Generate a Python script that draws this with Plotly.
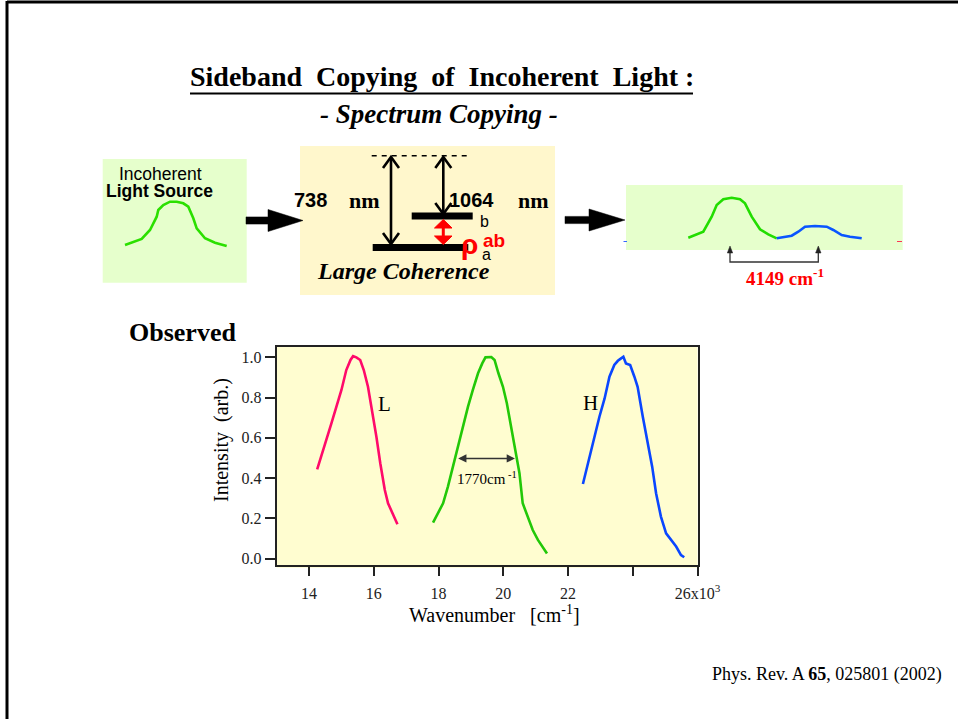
import plotly.graph_objects as go

W, H = 958, 719
SERIF = "Liberation Serif"
SANS = "Liberation Sans"

# ---------------- Observed spectra (wavenumber in 10^3 cm^-1, normalized) ----------------
L_wavenumber = [14.25, 14.38, 14.53, 14.69, 14.84, 15.00, 15.15, 15.28, 15.36, 15.46,
                15.58, 15.69, 15.82, 15.95, 16.08, 16.20, 16.34, 16.44, 16.59, 16.73]
L_intensity = [0.444, 0.507, 0.589, 0.672, 0.755, 0.838, 0.937, 0.987, 1.006, 1.000,
               0.987, 0.937, 0.854, 0.738, 0.606, 0.474, 0.341, 0.275, 0.225, 0.171]

G_wavenumber = [17.83, 17.98, 18.14, 18.29, 18.44, 18.60, 18.75, 18.91, 19.06, 19.22,
                19.35, 19.45, 19.63, 19.73, 19.85, 19.99, 20.11, 20.24, 20.38, 20.50,
                20.60, 20.76, 20.91, 21.07, 21.22, 21.35]
G_intensity = [0.179, 0.225, 0.275, 0.358, 0.457, 0.556, 0.656, 0.755, 0.838, 0.921,
               0.970, 1.000, 1.002, 0.987, 0.921, 0.854, 0.772, 0.656, 0.540, 0.424,
               0.275, 0.209, 0.142, 0.093, 0.060, 0.026]

H_wavenumber = [22.46, 22.54, 22.66, 22.82, 22.97, 23.13, 23.28, 23.43, 23.54, 23.64,
                23.71, 23.79, 23.92, 24.05, 24.15, 24.31, 24.46, 24.60, 24.72, 24.87,
                25.03, 25.18, 25.34, 25.49, 25.59]
H_intensity = [0.371, 0.424, 0.507, 0.606, 0.705, 0.796, 0.904, 0.962, 0.983, 0.995,
               1.003, 0.970, 0.962, 0.904, 0.854, 0.705, 0.573, 0.457, 0.325, 0.209,
               0.126, 0.093, 0.060, 0.018, 0.007]

x_tickvals = [14, 16, 18, 20, 22, 26]
x_ticktext = ["14", "16", "18", "20", "22", "26x10<sup>3</sup>"]
x_unlabeled_ticks = [24]
y_tickvals = [0.0, 0.2, 0.4, 0.6, 0.8, 1.0]
y_ticktext = ["0.0", "0.2", "0.4", "0.6", "0.8", "1.0"]

fwhm_start, fwhm_end, fwhm_level = 18.56, 20.36, 0.498
fwhm_label = "1770cm<sup> -1</sup>"

# ---------------- Schematic sketch curves (slide pixel coordinates) ----------------
src_curve_x = [125, 141.7, 150, 156.7, 158.3, 163.3, 170, 176.7, 183.3, 188.3, 193.3, 196.7, 205, 215, 226.7]
src_curve_y = [245, 239, 230, 216.7, 210, 205, 201.7, 201.7, 203.3, 206.7, 218.3, 228.3, 238.3, 242.7, 246]
copy_green_x = [688.3, 703.3, 711.7, 716.7, 723.3, 731.7, 740, 745, 751.7, 760, 768.3, 776.7]
copy_green_y = [237.7, 231.7, 216.7, 205, 199.3, 197.7, 199.3, 203.3, 216.7, 229.3, 234.3, 238.3]
copy_blue_x = [776.7, 791.7, 798.3, 805, 815, 826.7, 833.3, 841.7, 850, 861.7]
copy_blue_y = [238.3, 235.7, 231.7, 226.7, 226, 226.7, 230, 235, 236.7, 238.3]

# ---------------- Plot-area placement ----------------
PX0, PX1 = 276.7, 697.5
PY0, PY1 = 346.7, 564.5

fig = go.Figure()

for xs, ys, col in [(L_wavenumber, L_intensity, "#FF0A6A"),
                    (G_wavenumber, G_intensity, "#22C808"),
                    (H_wavenumber, H_intensity, "#0A46FF")]:
    fig.add_trace(go.Scatter(x=xs, y=ys, mode="lines", line=dict(color=col, width=2.6),
                             xaxis="x", yaxis="y", hoverinfo="skip", showlegend=False))

for xs, ys, col in [(src_curve_x, src_curve_y, "#2BE000"),
                    (copy_green_x, copy_green_y, "#22DD00"),
                    (copy_blue_x, copy_blue_y, "#0A55FF")]:
    fig.add_trace(go.Scatter(x=xs, y=ys, mode="lines", line=dict(color=col, width=2.6),
                             xaxis="x2", yaxis="y2", hoverinfo="skip", showlegend=False))

axis_col = "#222222"
fig.update_layout(
    width=W, height=H, autosize=False,
    margin=dict(l=0, r=0, t=0, b=0, pad=0, autoexpand=False),
    paper_bgcolor="white", plot_bgcolor="rgba(0,0,0,0)",
    showlegend=False,
    xaxis=dict(domain=[PX0 / W, PX1 / W], range=[13, 26], anchor="y", automargin=False,
               tickmode="array", tickvals=x_tickvals, ticktext=x_ticktext,
               ticks="outside", ticklen=9, tickwidth=1.5, tickcolor=axis_col,
               ticklabelstandoff=4,
               minor=dict(tickmode="array", tickvals=x_unlabeled_ticks, ticks="outside",
                          ticklen=9, tickwidth=1.5, tickcolor=axis_col, showgrid=False),
               showline=True, linewidth=2, linecolor=axis_col, mirror=True,
               showgrid=False, zeroline=False,
               tickfont=dict(family=SERIF, size=16, color=axis_col)),
    xaxis3=dict(overlaying="x", side="top", range=[13, 26], anchor="y", automargin=False,
                tickmode="array", tickvals=x_tickvals + x_unlabeled_ticks,
                showticklabels=False,
                ticks="inside", ticklen=5, tickwidth=1.5, tickcolor=axis_col,
                showline=False, showgrid=False, zeroline=False),
    yaxis=dict(domain=[1 - PY1 / H, 1 - PY0 / H], range=[-0.029, 1.053], anchor="x", automargin=False,
               tickmode="array", tickvals=y_tickvals, ticktext=y_ticktext,
               ticks="outside", ticklen=10, tickwidth=1.5, tickcolor=axis_col,
               showline=True, linewidth=2, linecolor=axis_col, mirror=True,
               showgrid=False, zeroline=False,
               tickfont=dict(family=SERIF, size=16, color=axis_col)),
    xaxis2=dict(domain=[0, 1], range=[0, W], visible=False, anchor="y2", fixedrange=True, automargin=False),
    yaxis2=dict(domain=[0, 1], range=[H, 0], visible=False, anchor="x2", fixedrange=True, automargin=False),
)

shapes = []
# plot background
shapes.append(dict(type="rect", xref="x domain", yref="y domain", x0=0, x1=1, y0=-0.015, y1=1,
                   fillcolor="#FFFDD0", line=dict(width=0), layer="below"))

def px_shape(**kw):
    d = dict(xref="x2", yref="y2")
    d.update(kw)
    shapes.append(d)

# slide frame
px_shape(type="line", x0=7, x1=W, y0=2, y1=2, line=dict(color="black", width=3))
px_shape(type="line", x0=7, x1=7, y0=1, y1=H, line=dict(color="black", width=3))

# title underline
px_shape(type="line", x0=190, x1=693, y0=93.5, y1=93.5, line=dict(color="black", width=2))

# boxes
px_shape(type="rect", x0=102.7, x1=246.7, y0=159, y1=282.7, fillcolor="#E6FFCC", line=dict(width=0), layer="below")
px_shape(type="rect", x0=300, x1=555, y0=146, y1=295, fillcolor="#FFF7CC", line=dict(width=0), layer="below")
px_shape(type="rect", x0=626, x1=902.7, y0=185, y1=250, fillcolor="#E6FFCC", line=dict(width=0), layer="below")

# block arrows
def block_arrow(xs, xh, tip, cy):
    path = (f"M {xs},{cy-3.6} L {xh},{cy-3.6} L {xh},{cy-11} L {tip},{cy} "
            f"L {xh},{cy+11} L {xh},{cy+3.6} L {xs},{cy+3.6} Z")
    px_shape(type="path", path=path, fillcolor="black", line=dict(color="black", width=0.5))

block_arrow(246, 268, 303, 220.5)
block_arrow(565, 589, 625, 220)

# energy diagram
px_shape(type="line", x0=371.7, x1=471.7, y0=155.7, y1=155.7, line=dict(color="black", width=1.5, dash="5px,5px"))
px_shape(type="line", x0=372.7, x1=468.3, y0=247.5, y1=247.5, line=dict(color="black", width=7))
px_shape(type="line", x0=411.7, x1=472.7, y0=216, y1=216, line=dict(color="black", width=7))

def v_double_arrow(x, ytop, ybot):
    px_shape(type="line", x0=x, x1=x, y0=ytop + 1, y1=ybot - 1, line=dict(color="black", width=2.6))
    px_shape(type="path", path=f"M {x-8},{ytop+11} L {x},{ytop} L {x+8},{ytop+11}",
             line=dict(color="black", width=2.6))
    px_shape(type="path", path=f"M {x-8},{ybot-11} L {x},{ybot} L {x+8},{ybot-11}",
             line=dict(color="black", width=2.6))

v_double_arrow(391, 157, 244)
v_double_arrow(443.3, 157, 214)

# red coherence arrow
px_shape(type="path", path="M 434.5,228 L 452,228 L 443.3,219.5 Z", fillcolor="#FF0000", line=dict(color="#FF0000", width=1))
px_shape(type="path", path="M 434.5,236 L 452,236 L 443.3,244.5 Z", fillcolor="#FF0000", line=dict(color="#FF0000", width=1))
px_shape(type="line", x0=443.3, x1=443.3, y0=227, y1=237, line=dict(color="#FF0000", width=3))

# frequency-difference bracket
px_shape(type="path", path="M 730,250 L 730,262 L 818.3,262 L 818.3,250", line=dict(color="#333333", width=1.3))
px_shape(type="path", path="M 727.3,253 L 730,246 L 732.7,253 Z", fillcolor="#222222", line=dict(color="#222222", width=0.5))
px_shape(type="path", path="M 815.6,253 L 818.3,246 L 821,253 Z", fillcolor="#222222", line=dict(color="#222222", width=0.5))
# small edge marks in copied-spectrum box
px_shape(type="line", x0=623.5, x1=627, y0=241.5, y1=241.5, line=dict(color="#3366FF", width=1))
px_shape(type="line", x0=897, x1=902, y0=241.5, y1=241.5, line=dict(color="#FF3355", width=1))

# FWHM arrow in data coordinates
fig.add_annotation(x=fwhm_end, y=fwhm_level, ax=fwhm_start, ay=fwhm_level,
                   xref="x", yref="y", axref="x", ayref="y", text="",
                   showarrow=True, arrowhead=2, arrowside="end+start", arrowsize=1.1,
                   arrowwidth=1.5, arrowcolor="#333333")

fig.update_layout(shapes=shapes)

def txt(x, y, s, size, family=SERIF, color="black", xanchor="center", yanchor="middle", ref="px"):
    xr, yr = ("x2", "y2") if ref == "px" else ("x", "y")
    fig.add_annotation(x=x, y=y, xref=xr, yref=yr, text=s, showarrow=False,
                       font=dict(family=family, size=size, color=color),
                       xanchor=xanchor, yanchor=yanchor, borderpad=0)

NB = "\u00a0"
txt(441.5, 76, f"<b>Sideband{NB}{NB}Copying{NB}{NB}of{NB}{NB}Incoherent{NB}{NB}Light{NB}:</b>", 28)
txt(438.5, 114, "<b><i>- Spectrum Copying -</i></b>", 27)

txt(160, 173.5, "Incoherent", 17.5, family=SANS)
txt(159.5, 190.5, "<b>Light Source</b>", 17.5, family=SANS)

txt(310, 200, "<b>738</b>", 20, family=SANS)
txt(364, 200, "<b>nm</b>", 22)
txt(471, 200, "<b>1064</b>", 20, family=SANS)
txt(533.5, 200, "<b>nm</b>", 22)
txt(484, 221, "b", 16, family=SANS)
txt(486, 254, "a", 16, family=SANS)
txt(469.5, 244, "<b>\u03c1</b>", 28, family=SANS, color="#FF0000")
txt(494, 240, "<b>ab</b>", 19, family=SANS, color="#FF0000")
txt(403, 271, "<b><i>Large Coherence</i></b>", 24)

txt(785, 277, "<b>4149 cm<sup>-1</sup></b>", 19, color="#FF0000")

txt(182, 332.5, "<b>Observed</b>", 26)

# axis titles
txt(494, 614, f"Wavenumber{NB}{NB}{NB}[cm<sup>-1</sup>]", 20)
fig.add_annotation(x=221, y=440, xref="x2", yref="y2", text=f"Intensity{NB}{NB}(arb.)",
                   showarrow=False, textangle=-90,
                   font=dict(family=SERIF, size=20, color="black"))

# curve labels
txt(16.32, 0.766, "L", 21, ref="data")
txt(22.69, 0.773, "H", 21, ref="data")
txt(19.49, 0.40, fwhm_label, 15, ref="data")

txt(943, 674, f"Phys. Rev. A <b>65</b>, 025801 (2002)", 18, xanchor="right")

fig.write_html("out.html")
